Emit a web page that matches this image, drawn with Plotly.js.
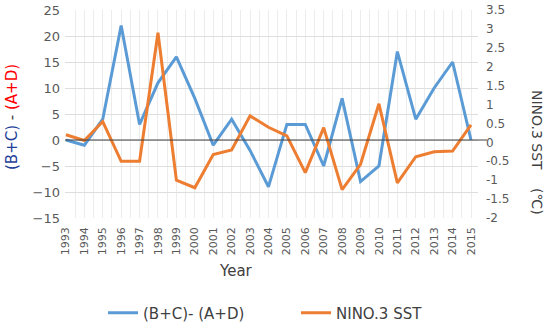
<!DOCTYPE html>
<html>
<head>
<meta charset="utf-8">
<script src="https://cdn.plot.ly/plotly-3.0.1.min.js"></script>
<style>html,body{margin:0;padding:0;background:#fff;}#chart{width:550px;height:328px;}</style>
</head>
<body>
<div id="chart"></div>
<script>
const years = [1993,1994,1995,1996,1997,1998,1999,2000,2001,2002,2003,2004,2005,2006,2007,2008,2009,2010,2011,2012,2013,2014,2015];
const bcad = [0,-1,4,22,3,11,16,8,-1,4,-2,-9,3,3,-5,8,-8,-5,17,4,10,15,0];
const nino3 = [0.2,0.05,0.55,-0.5,-0.5,2.9,-1.0,-1.2,-0.32,-0.2,0.7,0.4,0.17,-0.8,0.39,-1.25,-0.58,1.02,-1.07,-0.38,-0.25,-0.23,0.46];
const leftTicks = [-15,-10,-5,0,5,10,15,20,25];
const rightTicks = [-2,-1.5,-1,-0.5,0,0.5,1,1.5,2,2.5,3,3.5];

const font = 'DejaVu Sans, Verdana, sans-serif';
const traces = [
  {x: years, y: bcad, type: 'scatter', mode: 'lines', name: '(B+C)- (A+D)',
   line: {color: '#5b9bd5', width: 3}, yaxis: 'y', legend: 'legend'},
  {x: years, y: nino3, type: 'scatter', mode: 'lines', name: 'NINO.3 SST',
   line: {color: '#ed7d31', width: 3}, yaxis: 'y2', legend: 'legend2'}
];
const legY = 313/328;
const layout = {
  width: 550, height: 328,
  margin: {l: 65, r: 72, t: 10, b: 110},
  paper_bgcolor: '#fff', plot_bgcolor: 'rgba(0,0,0,0)',
  font: {family: font, color: '#595959'},
  xaxis: {
    range: [1992.95, 2015.38], tickvals: years, ticktext: years.map(String),
    tickangle: -90, tickfont: {size: 11, color: '#595959'},
    showgrid: true, gridcolor: '#ececec', gridwidth: 1,
    minor: {dtick: 0.5, tick0: 1993, showgrid: true, gridcolor: '#ececec', gridwidth: 1},
    zeroline: false, showline: false, ticks: '', ticklabelstandoff: 6, fixedrange: true,
    automargin: false
  },
  yaxis: {
    range: [-15, 25], tickvals: leftTicks, tickfont: {size: 13, color: '#595959'},
    showgrid: true, gridcolor: '#dedede', gridwidth: 1, zeroline: false,
    showline: false, ticks: '', ticklabelstandoff: 4, automargin: false
  },
  yaxis2: {
    range: [-2, 3.5], tickvals: rightTicks, ticktext: rightTicks.map(String),
    overlaying: 'y', side: 'right', tickfont: {size: 12, color: '#595959'},
    showgrid: false, zeroline: false, showline: false, ticks: '', ticklabelstandoff: 7,
    automargin: false
  },
  shapes: [
    {type: 'line', xref: 'paper', yref: 'y', x0: 0, x1: 1.022, y0: 0, y1: 0,
     line: {color: '#404040', width: 1}, layer: 'above'}
  ],
  annotations: [
    {text: 'Year', xref: 'paper', yref: 'paper', x: (236-65)/413, y: (218-271)/208,
     xanchor: 'center', yanchor: 'middle', showarrow: false,
     font: {size: 15, color: '#404040', family: font}},
    {text: '<span style="color:#1f3f99">(B+C)</span> - <span style="color:#ff0000">(A+D)</span>',
     xref: 'paper', yref: 'paper', x: (12-65)/413, y: (218-117)/208,
     xanchor: 'center', yanchor: 'middle', showarrow: false, textangle: -90,
     font: {size: 15, color: '#404040', family: font}},
    {text: 'NINO.3 SST\u3000 (\u2103)', xref: 'paper', yref: 'paper',
     x: (537-65)/413, y: (218-152)/208, xanchor: 'center', yanchor: 'middle',
     showarrow: false, textangle: 90, font: {size: 14, color: '#404040', family: font}}
  ],
  legend: {orientation: 'h', xref: 'container', yref: 'container', x: 103/550, y: 1 - legY,
    xanchor: 'left', yanchor: 'middle',
    font: {size: 15, color: '#404040', family: font}, bgcolor: 'rgba(0,0,0,0)'},
  legend2: {orientation: 'h', xref: 'container', yref: 'container', x: 296/550, y: 1 - legY,
    xanchor: 'left', yanchor: 'middle',
    font: {size: 15, color: '#404040', family: font}, bgcolor: 'rgba(0,0,0,0)'},
  showlegend: true
};
Plotly.newPlot('chart', traces, layout, {displayModeBar: false, staticPlot: true});
</script>
</body>
</html>
